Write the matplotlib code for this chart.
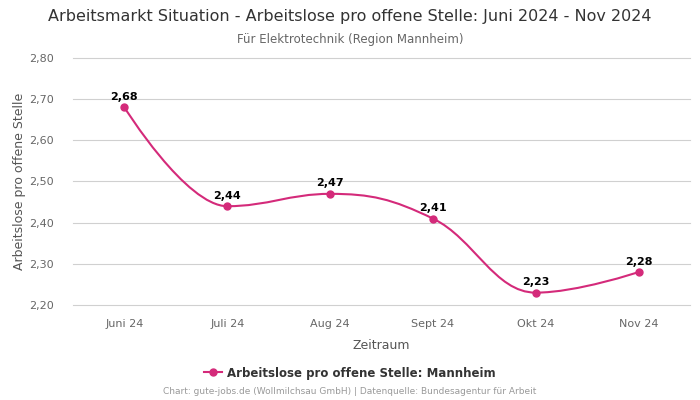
import matplotlib
matplotlib.use("Agg")
import matplotlib.pyplot as plt
from matplotlib.path import Path
from matplotlib.patches import PathPatch
import numpy as np

categories = ["Juni 24", "Juli 24", "Aug 24", "Sept 24", "Okt 24", "Nov 24"]
values = [2.68, 2.44, 2.47, 2.41, 2.23, 2.28]
value_labels = ["2,68", "2,44", "2,47", "2,41", "2,23", "2,28"]
yticks = [2.20, 2.30, 2.40, 2.50, 2.60, 2.70, 2.80]
ytick_labels = ["2,20", "2,30", "2,40", "2,50", "2,60", "2,70", "2,80"]

color = "#d42a7a"

plt.rcParams['font.family'] = ['DejaVu Sans']
fig = plt.figure(figsize=(7, 4), dpi=100)
ax = fig.add_axes([73/700, 1-305/400, (690-73)/700, (305-58)/400])

x = np.arange(len(values), dtype=float)
y = np.array(values, dtype=float)

# Highcharts-style spline control points
def controls(xs, ys, i, smoothing=1.5):
    denom = smoothing + 1
    px, py = xs[i], ys[i]
    lx, ly = xs[i-1], ys[i-1]
    nx, ny = xs[i+1], ys[i+1]
    lcx = (smoothing*px + lx)/denom
    lcy = (smoothing*py + ly)/denom
    rcx = (smoothing*px + nx)/denom
    rcy = (smoothing*py + ny)/denom
    if rcx != lcx:
        corr = ((rcy - lcy)*(rcx - px))/(rcx - lcx) + py - rcy
        lcy += corr
        rcy += corr
    if lcy > ly and lcy > py:
        lcy = max(ly, py); rcy = 2*py - lcy
    elif lcy < ly and lcy < py:
        lcy = min(ly, py); rcy = 2*py - lcy
    if rcy > ny and rcy > py:
        rcy = max(ny, py); lcy = 2*py - rcy
    elif rcy < ny and rcy < py:
        rcy = min(ny, py); lcy = 2*py - rcy
    return (lcx, lcy), (rcx, rcy)

n = len(x)
left = [None]*n
right = [None]*n
for i in range(n):
    if i == 0 or i == n-1:
        left[i] = (x[i], y[i]); right[i] = (x[i], y[i])
    else:
        left[i], right[i] = controls(x, y, i)

verts = [(x[0], y[0])]
codes = [Path.MOVETO]
for i in range(1, n):
    verts += [right[i-1], left[i], (x[i], y[i])]
    codes += [Path.CURVE4]*3
path = Path(verts, codes)
ax.add_patch(PathPatch(path, facecolor='none', edgecolor=color, lw=1.5, zorder=3))
ax.plot(x, y, 'o', color=color, ms=5, zorder=4, clip_on=False)

for xi, yi, lab in zip(x, y, value_labels):
    ax.annotate(lab, (xi, yi), xytext=(0, 4), textcoords='offset points',
                ha='center', va='bottom', fontsize=8, fontweight='bold', color='black')

ax.set_xlim(-0.5, n-0.5)
ax.set_ylim(2.20, 2.80)
ax.set_yticks(yticks)
ax.set_yticklabels(ytick_labels)
ax.set_xticks(x)
ax.set_xticklabels(categories)
ax.grid(axis='y', color='#d0d0d0', lw=0.8)
for gl in ax.get_ygridlines():
    gl.set_clip_on(False)
ax.set_axisbelow(True)
for s in ax.spines.values():
    s.set_visible(False)
ax.tick_params(axis='both', length=0, labelsize=8, colors='#666666')
ax.tick_params(axis='x', pad=10)
ax.tick_params(axis='y', pad=14)
ax.set_xlabel("Zeitraum", fontsize=9, color='#555555', labelpad=7)
ax.set_ylabel("Arbeitslose pro offene Stelle", fontsize=9, color='#555555', labelpad=2)

fig.text(0.5, 1-17/400, "Arbeitsmarkt Situation - Arbeitslose pro offene Stelle: Juni 2024 - Nov 2024",
         ha='center', va='center', fontsize=11.5, color='#333333')
fig.text(0.5, 1-39/400, "Für Elektrotechnik (Region Mannheim)",
         ha='center', va='center', fontsize=8.5, color='#666666')

# legend
from matplotlib.lines import Line2D
h = Line2D([], [], color=color, marker='o', ms=5, lw=1.5)
fig.legend([h], ["Arbeitslose pro offene Stelle: Mannheim"], loc='center',
           bbox_to_anchor=(0.5, 1-373/400), frameon=False,
           prop={'size': 8.5, 'weight': 'bold'}, labelcolor='#333333',
           handlelength=1.5, handletextpad=0.4)

fig.text(0.5, 1-392/400, "Chart: gute-jobs.de (Wollmilchsau GmbH) | Datenquelle: Bundesagentur für Arbeit",
         ha='center', va='center', fontsize=6.5, color='#999999')

fig.savefig("out.png", dpi=100)
